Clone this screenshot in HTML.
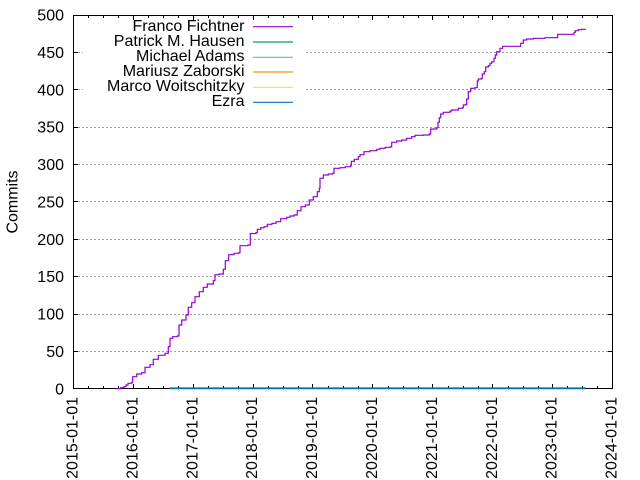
<!DOCTYPE html>
<html><head><meta charset="utf-8"><style>
html,body{margin:0;padding:0;background:#fff;}
svg{display:block;}
text{font-family:"Liberation Sans",Arial,sans-serif;font-size:16px;fill:#000;}
</style></head><body>
<svg width="640" height="480" viewBox="0 0 640 480" xmlns="http://www.w3.org/2000/svg">
<rect width="640" height="480" fill="#fff"/>
<!-- grid -->
<g stroke="#a0a0a0" stroke-width="1" stroke-dasharray="2,2">
<line x1="74" y1="351.5" x2="612" y2="351.5"/>
<line x1="74" y1="314.5" x2="612" y2="314.5"/>
<line x1="74" y1="276.5" x2="612" y2="276.5"/>
<line x1="74" y1="239.5" x2="612" y2="239.5"/>
<line x1="74" y1="201.5" x2="612" y2="201.5"/>
<line x1="74" y1="164.5" x2="612" y2="164.5"/>
<line x1="74" y1="127.5" x2="612" y2="127.5"/>
<line x1="74" y1="89.5" x2="612" y2="89.5"/>
<line x1="74" y1="52.5" x2="612" y2="52.5"/>
</g>
<!-- opaque key -->
<rect x="83" y="16" width="222" height="94" fill="#fff"/>
<!-- ticks -->
<g stroke="#000" stroke-width="1">
<path d="M74,351.5h4M74,314.5h4M74,276.5h4M74,239.5h4M74,201.5h4M74,164.5h4M74,127.5h4M74,89.5h4M74,52.5h4
M612,351.5h-4M612,314.5h-4M612,276.5h-4M612,239.5h-4M612,201.5h-4M612,164.5h-4M612,127.5h-4M612,89.5h-4M612,52.5h-4"/>
<path d="M133.5,388v-4M193.5,388v-4M253.5,388v-4M312.5,388v-4M372.5,388v-4M432.5,388v-4M492.5,388v-4M552.5,388v-4
M133.5,16v4M193.5,16v4M253.5,16v4M312.5,16v4M372.5,16v4M432.5,16v4M492.5,16v4M552.5,16v4"/>
<path d="M88.5,388v-2M103.5,388v-2M118.5,388v-2M148.5,388v-2M163.5,388v-2M178.5,388v-2M208.5,388v-2M223.5,388v-2M238.5,388v-2M268.5,388v-2M283.5,388v-2M298.5,388v-2M328.5,388v-2M343.5,388v-2M358.5,388v-2M388.5,388v-2M403.5,388v-2M418.5,388v-2M448.5,388v-2M463.5,388v-2M478.5,388v-2M508.5,388v-2M523.5,388v-2M538.5,388v-2M567.5,388v-2M582.5,388v-2M597.5,388v-2"/>
<path d="M88.5,16v2M103.5,16v2M118.5,16v2M148.5,16v2M163.5,16v2M178.5,16v2M208.5,16v2M223.5,16v2M238.5,16v2M268.5,16v2M283.5,16v2M298.5,16v2M328.5,16v2M343.5,16v2M358.5,16v2M388.5,16v2M403.5,16v2M418.5,16v2M448.5,16v2M463.5,16v2M478.5,16v2M508.5,16v2M523.5,16v2M538.5,16v2M567.5,16v2M582.5,16v2M597.5,16v2"/>
</g>
<!-- border -->
<rect x="73.5" y="15.5" width="539" height="373" fill="none" stroke="#000" stroke-width="1"/>
<!-- series (drawn over axis) -->
<polyline fill="none" stroke="#9400d3" stroke-width="1.2" points="116,388.7 120.7,388.7 120.7,387.7 124,387.7 124,386.7 126,386.7 126,385 128,385 128,383.3 131.7,383.3 131.7,382.3 132.7,382.3 132.7,376.7 136.7,376.7 136.7,374 141.7,374 141.7,372.7 145,372.7 145,367.3 150,367.3 150,364.7 153.3,364.7 153.3,359.3 158.3,359.3 158.3,355.3 165,355.3 165,353.3 168.3,353.3 168.3,346.7 170,346.7 170,338.3 172.7,338.3 172.7,336.7 177.3,336.7 177.3,336 179,336 179,325 181.7,325 181.7,320 186,320 186,315 188.3,315 188.3,307.3 191.7,307.3 191.7,302.7 195,302.7 195,296.7 199.3,296.7 199.3,291.7 203.3,291.7 203.3,287.3 207.3,287.3 207.3,284 213.3,284 213.3,280.7 215,280.7 215,274.7 219.3,274.7 219.3,274 223.3,274 223.3,269.3 225.3,269.3 225.3,260.7 228.7,260.7 228.7,254.7 234,254.7 234,253.3 238.7,253.3 238.7,252.7 240,252.7 240,245.7 248,245.7 248,245 250.3,245 250.3,233.5 256,233.5 256,232.7 257.3,232.7 257.3,229.3 260.7,229.3 260.7,227.7 264,227.7 264,226.7 267.3,226.7 267.3,224.3 272,224.3 272,223.3 276,223.3 276,221.7 280.7,221.7 280.7,218.7 286.7,218.7 286.7,217.3 290,217.3 290,216 294,216 294,215 297.3,215 297.3,210.7 301,210.7 301,206.7 305.3,206.7 305.3,205 309.3,205 309.3,200 313.3,200 313.3,196.7 317.3,196.7 317.3,191.7 319.3,191.7 319.3,188.3 320,188.3 320,178.3 323.3,178.3 323.3,175 328.3,175 328.3,174 332.7,174 332.7,173.3 334,173.3 334,168.3 340,168.3 340,167.7 345.3,167.7 345.3,166.7 350.7,166.7 350.7,165.7 351.3,165.7 351.3,161.3 354.3,161.3 354.3,159.3 358.3,159.3 358.3,156.7 360,156.7 360,154.7 364,154.7 364,151.7 370,151.7 370,150.7 376.7,150.7 376.7,149.3 380,149.3 380,148.3 385.3,148.3 385.3,147.3 390.7,147.3 390.7,146.7 391.7,146.7 391.7,142.3 396.7,142.3 396.7,141 401.7,141 401.7,140 406.7,140 406.7,138.3 411.7,138.3 411.7,136.7 415,136.7 415,135.3 423.3,135.3 423.3,135 429.3,135 429.3,134 430.7,134 430.7,129 436.7,129 436.7,127.7 438,127.7 438,122.3 439.3,122.3 439.3,117.7 440.7,117.7 440.7,114 443.3,114 443.3,112.3 450,112.3 450,111 451.7,111 451.7,110 458.3,110 458.3,108.3 462.3,108.3 462.3,107.7 463.3,107.7 463.3,105 465.7,105 465.7,104.3 466.7,104.3 466.7,99 468.3,99 468.3,91.7 470.7,91.7 470.7,88.3 475,88.3 475,87.7 477.3,87.7 477.3,81 478.3,81 478.3,79 481.7,79 481.7,78.3 482.3,78.3 482.3,74 484.3,74 484.3,71.7 485.7,71.7 485.7,67 488.3,67 488.3,65.7 490,65.7 490,63.3 491.7,63.3 491.7,61.7 494,61.7 494,58.3 495.3,58.3 495.3,55 496.7,55 496.7,51.7 500,51.7 500,48.3 502.7,48.3 502.7,46.3 520.7,46.3 520.7,43.3 523.3,43.3 523.3,40 526.7,40 526.7,39 533.3,39 533.3,38.3 545,38.3 545,37.7 557.7,37.7 557.7,34.3 574,34.3 574,32.3 575.3,32.3 575.3,30.7 578.3,30.7 578.3,29.7 581.7,29.7 581.7,29.3 586,29.3"/>
<line x1="170" y1="388.3" x2="585.7" y2="388.3" stroke="#0072b2" stroke-width="1.8"/>
<!-- y labels -->
<g text-anchor="end">
<text x="64" y="394.3">0</text>
<text x="64" y="357">50</text>
<text x="64" y="319.5">100</text>
<text x="64" y="282.2">150</text>
<text x="64" y="244.8">200</text>
<text x="64" y="207.4">250</text>
<text x="64" y="170">300</text>
<text x="64" y="132.7">350</text>
<text x="64" y="95.3">400</text>
<text x="64" y="58">450</text>
<text x="64" y="20.6">500</text>
</g>
<text text-anchor="middle" transform="translate(17.5,202) rotate(-90)">Commits</text>
<!-- x labels -->
<g text-anchor="end">
<text transform="translate(77.5,397) rotate(-90)">2015-01-01</text>
<text transform="translate(137.3,397) rotate(-90)">2016-01-01</text>
<text transform="translate(197.3,397) rotate(-90)">2017-01-01</text>
<text transform="translate(257.2,397) rotate(-90)">2018-01-01</text>
<text transform="translate(317,397) rotate(-90)">2019-01-01</text>
<text transform="translate(376.9,397) rotate(-90)">2020-01-01</text>
<text transform="translate(436.9,397) rotate(-90)">2021-01-01</text>
<text transform="translate(496.8,397) rotate(-90)">2022-01-01</text>
<text transform="translate(556.6,397) rotate(-90)">2023-01-01</text>
<text transform="translate(616.5,397) rotate(-90)">2024-01-01</text>
</g>
<!-- legend -->
<g text-anchor="end">
<text x="244.5" y="31">Franco Fichtner</text>
<text x="244.5" y="46">Patrick M. Hausen</text>
<text x="244.5" y="61">Michael Adams</text>
<text x="244.5" y="76">Mariusz Zaborski</text>
<text x="244.5" y="91">Marco Woitschitzky</text>
<text x="244.5" y="106">Ezra</text>
</g>
<g stroke-width="1.2">
<line x1="253" y1="26.7" x2="293" y2="26.7" stroke="#9400d3"/>
<line x1="253" y1="42" x2="293" y2="42" stroke="#009e73"/>
<line x1="253" y1="57.3" x2="293" y2="57.3" stroke="#56b4e9"/>
<line x1="253" y1="72" x2="293" y2="72" stroke="#e69f00"/>
<line x1="253" y1="87.3" x2="293" y2="87.3" stroke="#f0e442"/>
<line x1="253" y1="102.3" x2="293" y2="102.3" stroke="#0072b2"/>
</g>
</svg>
</body></html>
